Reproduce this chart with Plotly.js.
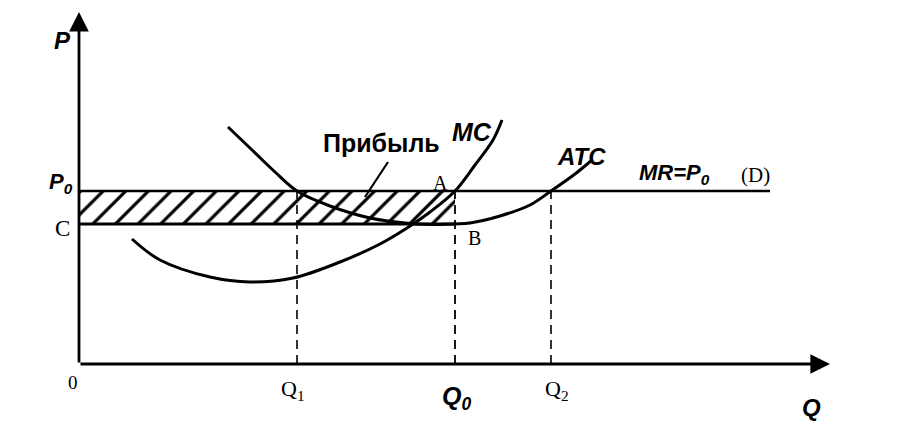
<!DOCTYPE html>
<html><head><meta charset="utf-8">
<script src="https://cdn.plot.ly/plotly-3.0.1.min.js"></script>
<style>html,body{margin:0;padding:0;background:#fff}#chart{width:908px;height:443px}</style>
</head><body><div id="chart"></div>
<script>
// Key levels (Q: quantity, P: price), arbitrary units
const qLevels = {Q1: 21.8, Q0: 37.6, Q2: 47.2};
const pLevels = {P0: 17.3, C: 14.0};
const mrEnd = 69.1;
const axisMaxQ = 75.1;
const axisMaxP = 35.2;
// ATC curve
const atcQ = [14.9, 17.1, 19.6, 21.8, 25.1, 29.1, 33.1, 36.1, 37.6, 39.1, 42.1, 45.1, 47.2, 49.6, 51.3];
const atcP = [23.7, 21.6, 19.2, 17.3, 15.8, 14.6, 14.05, 13.95, 14.0, 14.1, 14.8, 15.9, 17.3, 19.0, 20.4];
// MC curve
const mcQ = [5.3, 8.1, 13.1, 17.1, 21.4, 26.1, 30.1, 32.8, 35.1, 37.6, 39.6, 41.4, 42.3];
const mcP = [12.5, 10.4, 8.7, 8.2, 8.6, 10.2, 12.0, 13.6, 15.2, 17.3, 19.9, 22.4, 24.4];
// Profit pointer
const ptrQ = [30.9, 28.6];
const ptrP = [20.2, 16.7];
// Labels
const labelTexts = ['P', 'P<sub>0</sub>', 'C', '0', 'Q<sub>1</sub>', 'Q<sub>0</sub>', 'Q<sub>2</sub>', 'Q', 'Прибыль', 'MC', 'ATC', 'MR=P<sub>0</sub>', '(D)', 'A', 'B'];
const labelQ = [-1.7, -1.8, -1.7, -0.6, 21.4, 37.7, 47.8, 73.2, 30.2, 39.3, 50.2, 59.5, 67.6, 36.1, 39.5];
const labelP = [32.4, 18.1, 13.6, -1.8, -2.6, -3.4, -2.6, -4.3, 22.1, 23.2, 20.8, 19.0, 18.9, 18.1, 12.6];

const B = {family: 'Liberation Sans, Arial, sans-serif', color: '#000'};
const S = {family: 'Liberation Serif, Times New Roman, serif', color: '#000'};
const labelFonts = [
  {...B, size: 24, weight: 'bold', style: 'italic'},
  {...B, size: 22, weight: 'bold', style: 'italic'},
  {...S, size: 23},
  {...S, size: 19},
  {...S, size: 22},
  {...B, size: 25, weight: 'bold', style: 'italic'},
  {...S, size: 22},
  {...B, size: 24, weight: 'bold', style: 'italic'},
  {...B, size: 25, weight: 'bold'},
  {...B, size: 25, weight: 'bold', style: 'italic'},
  {...B, size: 24, weight: 'bold', style: 'italic'},
  {...B, size: 22, weight: 'bold', style: 'italic'},
  {...S, size: 21},
  {...S, size: 20},
  {...S, size: 20}
];

const blk = '#000';
const traces = [
  // hatched profit rectangle
  {x: [0, qLevels.Q0, qLevels.Q0, 0, 0], y: [pLevels.C, pLevels.C, pLevels.P0, pLevels.P0, pLevels.C],
   mode: 'lines', fill: 'toself', line: {width: 0, color: 'rgba(0,0,0,0)'},
   fillcolor: '#fff', fillpattern: {shape: '/', fgcolor: blk, bgcolor: '#fff', size: 16, solidity: 0.2}, hoverinfo: 'skip'},
  // MR = P0 line
  {x: [0, mrEnd], y: [pLevels.P0, pLevels.P0], mode: 'lines', line: {color: blk, width: 2.6}},
  // C line
  {x: [0, qLevels.Q0], y: [pLevels.C, pLevels.C], mode: 'lines', line: {color: blk, width: 2.8}},
  // dashed verticals
  {x: [qLevels.Q1, qLevels.Q1], y: [0, pLevels.P0], mode: 'lines', line: {color: blk, width: 1.6, dash: '9px,6px'}},
  {x: [qLevels.Q0, qLevels.Q0], y: [0, pLevels.P0], mode: 'lines', line: {color: blk, width: 1.8, dash: '9px,6px'}},
  {x: [qLevels.Q2, qLevels.Q2], y: [0, pLevels.P0], mode: 'lines', line: {color: blk, width: 1.6, dash: '9px,6px'}},
  // ATC
  {x: atcQ, y: atcP, mode: 'lines', line: {color: blk, width: 3, shape: 'spline', smoothing: 1}},
  // MC
  {x: mcQ, y: mcP, mode: 'lines', line: {color: blk, width: 3, shape: 'spline', smoothing: 1}},
  // pointer
  {x: ptrQ, y: ptrP, mode: 'lines', line: {color: blk, width: 2.2}}
];

const annotations = labelTexts.map((t, i) => ({
  x: labelQ[i], y: labelP[i], xref: 'x', yref: 'y', text: t, showarrow: false, font: labelFonts[i]
}));
// axes with arrowheads
annotations.push({x: axisMaxQ, y: 0, ax: 0, ay: 0, axref: 'x', ayref: 'y', xref: 'x', yref: 'y', text: '',
  showarrow: true, arrowhead: 2, arrowsize: 1.4, arrowwidth: 2.8, arrowcolor: blk});
annotations.push({x: 0, y: axisMaxP, ax: 0, ay: 0, axref: 'x', ayref: 'y', xref: 'x', yref: 'y', text: '',
  showarrow: true, arrowhead: 2, arrowsize: 1.4, arrowwidth: 2.8, arrowcolor: blk});

const layout = {
  width: 908, height: 443,
  margin: {l: 0, r: 0, t: 0, b: 0},
  paper_bgcolor: '#fff', plot_bgcolor: '#fff',
  showlegend: false,
  xaxis: {range: [-7.9, 82.9], visible: false, fixedrange: true},
  yaxis: {range: [-7.9, 36.4], visible: false, fixedrange: true},
  annotations: annotations
};
Plotly.newPlot('chart', traces, layout, {staticPlot: true});
</script></body></html>
